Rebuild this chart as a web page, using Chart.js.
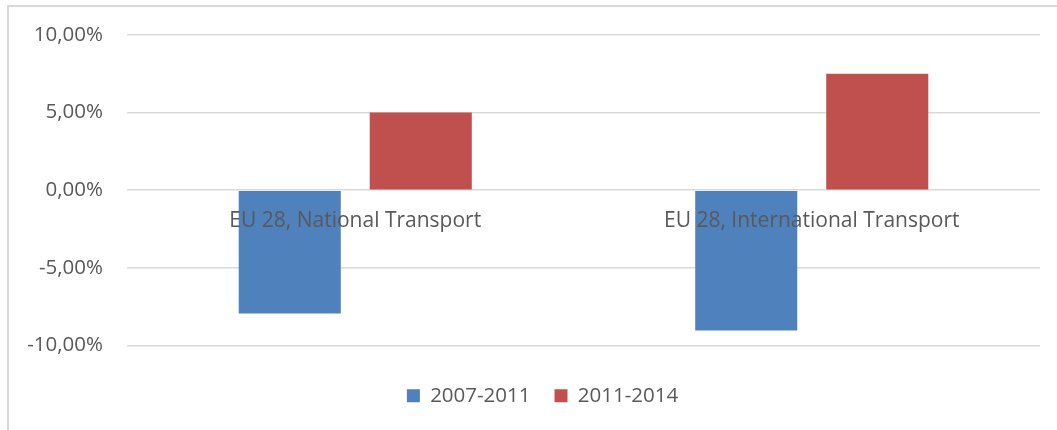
<!DOCTYPE html>
<html>
<head>
<meta charset="utf-8">
<script src="https://cdn.jsdelivr.net/npm/chart.js@4.4.1/dist/chart.umd.min.js"></script>
<style>
  html, body { margin: 0; padding: 0; background: #ffffff; overflow: hidden; }
  #wrap { position: relative; width: 1057px; height: 430px; }
  #frame { position: absolute; left: 7px; top: 5px; width: 1100px; height: 500px;
           border-top: 2px solid #d9d9d9; border-left: 2px solid #d9d9d9; box-sizing: border-box; }
  canvas { position: absolute; left: 0; top: 0; }
</style>
</head>
<body>
<div id="wrap">
  <div id="frame"></div>
  <canvas id="c" width="1057" height="430"></canvas>
</div>
<script>
const categories = ["EU 28, National Transport", "EU 28, International Transport"];
const seriesNames = ["2007-2011", "2011-2014"];
const values2007_2011 = [-7.95, -9.05];
const values2011_2014 = [5.0, 7.5];
const yTicks = [-10, -5, 0, 5, 10];

const FONT = "'Open Sans', Lato, sans-serif";
const TXT = "#595959";

const legendShift = {
  id: 'legendShift',
  afterLayout(chart) {
    if (chart.legend) { chart.legend.left += 19; chart.legend.right += 19; }
  }
};

new Chart(document.getElementById('c'), {
  type: 'bar',
  data: {
    labels: categories,
    datasets: [
      { label: seriesNames[0], data: values2007_2011, backgroundColor: '#4f81bd', borderWidth: 0,
        categoryPercentage: 0.574, barPercentage: 0.779 },
      { label: seriesNames[1], data: values2011_2014, backgroundColor: '#c0504d', borderWidth: 0,
        categoryPercentage: 0.574, barPercentage: 0.779 }
    ]
  },
  plugins: [legendShift],
  options: {
    responsive: false,
    animation: false,
    devicePixelRatio: 1,
    layout: { padding: { left: 7, right: 17, top: 35, bottom: 14 } },
    plugins: {
      tooltip: { enabled: false },
      legend: {
        position: 'bottom',
        title: { display: true, text: '', font: { size: 1 }, padding: { top: 15, bottom: 0 } },
        labels: { color: TXT, font: { family: FONT, size: 20.5 }, boxWidth: 13, boxHeight: 13, padding: 24 }
      }
    },
    scales: {
      x: {
        position: { y: 0 },
        grid: { display: false, drawTicks: false },
        border: { display: false },
        ticks: { z: 1, color: TXT, font: { family: FONT, size: 21 }, padding: 18, maxRotation: 0 }
      },
      y: {
        min: -10, max: 10,
        afterBuildTicks: (s) => { s.ticks = yTicks.map(v => ({ value: v })); },
        afterFit: (s) => { s.width = 120; s.paddingTop = 0; s.paddingBottom = 0; },
        grid: { color: '#d9d9d9', lineWidth: 1.5, drawTicks: false },
        border: { display: false },
        ticks: {
          color: TXT, font: { family: FONT, size: 20.5 }, padding: 24,
          callback: (v) => v.toFixed(2).replace('.', ',') + '%'
        }
      }
    }
  }
});
</script>
</body>
</html>
